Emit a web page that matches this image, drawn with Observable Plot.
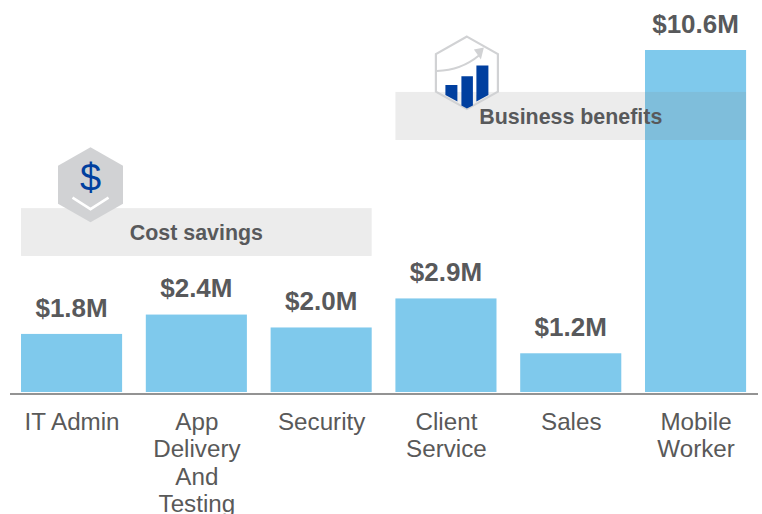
<!DOCTYPE html>
<html>
<head>
<meta charset="utf-8">
<style>
  html, body { margin: 0; padding: 0; background: #fff; }
  svg { display: block; }
</style>
<script src="https://cdn.jsdelivr.net/npm/d3@7"></script>
<script src="https://cdn.jsdelivr.net/npm/@observablehq/plot@0.6"></script>
</head>
<body>
<div id="chart"></div>
<script>
const categories = ["IT Admin", "App Delivery And Testing", "Security", "Client Service", "Sales", "Mobile Worker"];
const tickLabels = ["IT Admin", "App\nDelivery\nAnd\nTesting", "Security", "Client\nService", "Sales", "Mobile\nWorker"];
const values = [1.8, 2.4, 2.0, 2.9, 1.2, 10.6];
const valueLabels = ["$1.8M", "$2.4M", "$2.0M", "$2.9M", "$1.2M", "$10.6M"];

const groupNames = ["Cost savings", "Business benefits"];
const groupFirst = ["IT Admin", "Client Service"];
const groupLast = ["Security", "Mobile Worker"];
const groupLabelAt = ["App Delivery And Testing", "Sales"];
const groupTop = [5.70, 9.30];
const groupBottom = [4.216, 7.81];
const groupLabelValue = [4.94, 8.53];

const bars = categories.map((c, i) => ({c, v: values[i], label: valueLabels[i]}));
const groups = groupNames.map((name, i) => ({
  name, first: groupFirst[i], last: groupLast[i], at: groupLabelAt[i],
  top: groupTop[i], bottom: groupBottom[i], labelValue: groupLabelValue[i]
}));

const textColor = "#58595b";
const ns = "http://www.w3.org/2000/svg";
const make = (tag, attrs, parent) => {
  const e = document.createElementNS(ns, tag);
  for (const k in attrs) e.setAttribute(k, attrs[k]);
  if (parent) parent.appendChild(e);
  return e;
};

// Group bands span from the first band's left edge to the last band's right edge
function bandMark(index, scales) {
  const g = make("g", {});
  const step = scales.x(categories[1]) - scales.x(categories[0]);
  const bw = step / 1.235;
  for (const d of groups) {
    make("rect", {
      x: scales.x(d.first),
      width: scales.x(d.last) + bw - scales.x(d.first),
      y: scales.y(d.top),
      height: scales.y(d.bottom) - scales.y(d.top),
      fill: "#7f7f7f",
      "fill-opacity": 0.15
    }, g);
  }
  return g;
}

// Decorative icons, anchored through the scales
function iconMark(index, scales) {
  const root = make("g", {});
  // cost savings icon
  const a = make("g", {transform: `translate(${scales.x("IT Admin") + 69.5},${scales.y(6.42)})`}, root);
  make("path", {d: "M0,-37.5L32.5,-19L32.5,19L0,37.5L-32.5,19L-32.5,-19Z", fill: "#d1d2d4"}, a);
  const t = make("text", {
    x: 0, y: 6.5, "text-anchor": "middle", fill: "#003f9f",
    "font-size": 38, "font-family": "'Liberation Sans', Arial, sans-serif"
  }, a);
  t.textContent = "$";
  make("path", {d: "M-18,12.7L0,24.3L18,12.7", fill: "none", stroke: "#fff", "stroke-width": 2.6}, a);
  // business benefits icon
  const b = make("g", {transform: `translate(${scales.x("Client Service") + 71.5},${scales.y(9.9)})`}, root);
  make("path", {
    d: "M0,-36L31,-18.5L31,19L0,36.5L-31,19L-31,-18.5Z",
    fill: "#fff", "fill-opacity": 0.15, stroke: "#d1d2d4", "stroke-width": 2.2
  }, b);
  make("path", {d: "M-30,-1.5C-14,-2 0,-7 12,-17", fill: "none", stroke: "#d1d2d4", "stroke-width": 2}, b);
  make("path", {d: "M7,-23L17,-25L14,-13Z", fill: "#d1d2d4"}, b);
  make("path", {d: "M-21.5,12.5H-9.5V29L-21.5,22.5Z", fill: "#003f9f"}, b);
  make("path", {d: "M-5.5,3.7H6V33L0,36L-5.5,33Z", fill: "#003f9f"}, b);
  make("path", {d: "M9.5,-7H21.5V22.5L9.5,29Z", fill: "#003f9f"}, b);
  return root;
}

const chart = Plot.plot({
  width: 762,
  height: 514,
  marginTop: 50,
  marginBottom: 122,
  marginLeft: 10,
  marginRight: 4,
  style: {background: "#fff", fontFamily: "'Liberation Sans', Arial, sans-serif"},
  x: {domain: categories, range: [-2.7, 769.8], padding: 0.19, round: false, label: null},
  y: {domain: [0, 10.6], label: null, axis: null},
  marks: [
    Plot.barY(bars, {x: "c", y: "v", fill: "#7fc9ec"}),
    Plot.ruleY([0], {stroke: "#6f6f6f", strokeWidth: 1.6, dy: 1.5}),
    bandMark,
    iconMark,
    Plot.text(bars, {
      x: "c", y: "v", text: "label", dy: -26, dx: -0.5, fill: textColor,
      fontSize: 26, fontWeight: "bold", lineAnchor: "middle"
    }),
    Plot.text(groups, {
      x: "at", y: "labelValue", text: "name", dx: -0.5, fill: textColor,
      fontSize: 21.4, fontWeight: "bold", lineAnchor: "middle"
    }),
    Plot.axisX({
      domain: categories,
      anchor: "bottom",
      tickSize: 0,
      tickPadding: 18,
      fontSize: 24.2,
      lineHeight: 1.13,
      fill: "#595959",
      label: null,
      tickFormat: d => tickLabels[categories.indexOf(d)]
    })
  ]
});
document.getElementById("chart").appendChild(chart);
</script>
</body>
</html>
